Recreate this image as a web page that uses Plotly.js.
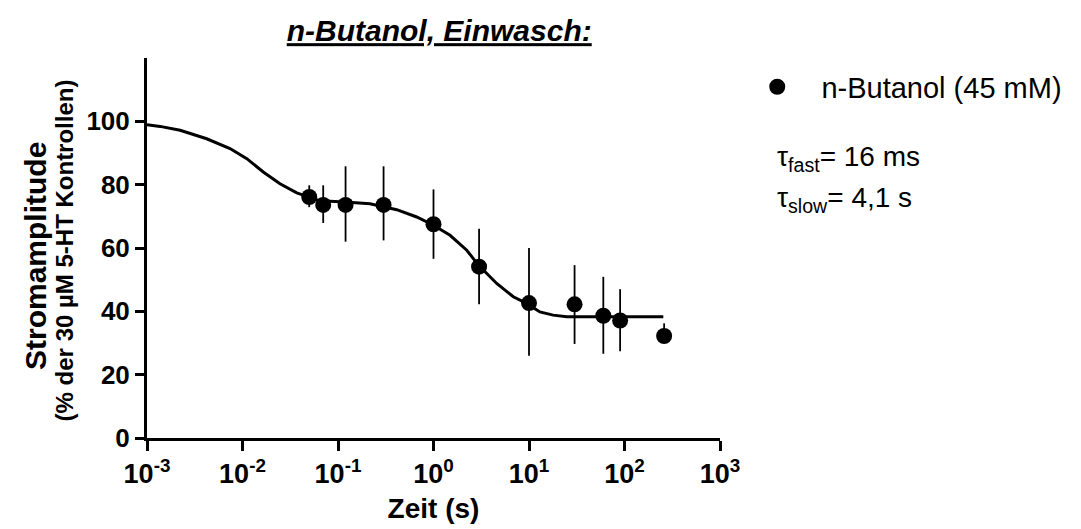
<!DOCTYPE html>
<html>
<head>
<meta charset="utf-8">
<script src="https://cdn.plot.ly/plotly-3.0.1.min.js"></script>
<style>
  html, body { margin: 0; padding: 0; background: #ffffff; }
  #chart { width: 1081px; height: 529px; }
</style>
</head>
<body>
<div id="chart"></div>
<script>
// ---- data ----
const timeS     = [0.05, 0.07, 0.12, 0.3, 1, 3, 10, 30, 60, 90, 260];
const amplitude = [76.1, 73.6, 73.6, 73.6, 67.5, 54.1, 42.6, 42.2, 38.6, 37.1, 32.2];
const semUp     = [3.7, 6.2, 12.2, 12.2, 11.0, 12.0, 17.4, 12.4, 12.3, 9.9, 4.0];
const semDown   = [3.2, 5.7, 11.6, 11.2, 10.9, 11.9, 16.6, 12.5, 12.0, 9.7, 2.0];

const fitTime = [0.001, 0.00137, 0.00222, 0.00422, 0.0074, 0.0111, 0.0165, 0.0247, 0.037, 0.047,
                 0.0648, 0.118, 0.216, 0.412, 0.667, 1.0, 1.49, 2.23, 2.95, 4.59,
                 6.85, 9.46, 13.0, 17.9, 24.8, 55.4, 255];
const fitAmp  = [98.9, 98.4, 97.2, 94.5, 91.4, 88.2, 84.0, 80.3, 77.4, 76.3,
                 74.9, 74.5, 74.0, 72.1, 69.8, 67.2, 64.0, 59.3, 54.6, 48.8,
                 44.6, 42.5, 39.8, 38.8, 38.3, 38.3, 38.3];

const xTickVals  = [0.001, 0.01, 0.1, 1, 10, 100, 1000];
const xTickText  = ['10<sup>-3</sup>', '10<sup>-2</sup>', '10<sup>-1</sup>', '10<sup>0</sup>',
                    '10<sup>1</sup>', '10<sup>2</sup>', '10<sup>3</sup>'];
const yTickVals  = [0, 20, 40, 60, 80, 100];

const titleText   = 'n-Butanol, Einwasch:';
const xTitleText  = 'Zeit (s)';
const yTitleMain  = 'Stromamplitude';
const yTitleSub   = '(% der 30 µM 5-HT Kontrollen)';
const seriesName  = 'n-Butanol (45 mM)';
const tauFast     = 'τ<sub>fast</sub>= 16 ms';
const tauSlow     = 'τ<sub>slow</sub>= 4,1 s';

const FONT = 'Liberation Sans, Arial, Helvetica, sans-serif';

const traces = [
  {
    x: fitTime, y: fitAmp, type: 'scatter', mode: 'lines',
    line: { color: '#000000', width: 3 },
    showlegend: false, hoverinfo: 'skip'
  },
  {
    x: timeS, y: amplitude, type: 'scatter', mode: 'markers',
    name: '\u00A0\u00A0\u00A0' + seriesName,
    marker: { color: '#000000', size: 16, symbol: 'circle' },
    error_y: { type: 'data', symmetric: false, array: semUp, arrayminus: semDown,
               visible: true, color: '#000000', thickness: 1.8, width: 0 },
    showlegend: true
  }
];

const layout = {
  width: 1081, height: 529,
  paper_bgcolor: '#ffffff', plot_bgcolor: '#ffffff',
  margin: { l: 147, r: 361, t: 58, b: 91, pad: 0 },
  font: { family: FONT, color: '#000000' },
  title: {
    text: titleText,
    font: { family: FONT, size: 30, weight: 700, style: 'italic', lineposition: 'under', color: '#000000' },
    xref: 'paper', x: 0.51, xanchor: 'center',
    yref: 'container', y: 0.942, yanchor: 'middle'
  },
  xaxis: {
    type: 'log', range: [-3, 3],
    tickvals: xTickVals, ticktext: xTickText,
    ticks: 'outside', ticklen: 10, tickwidth: 3, tickcolor: '#000000',
    showline: true, linewidth: 3, linecolor: '#000000',
    showgrid: false, zeroline: false,
    tickfont: { family: FONT, size: 27, weight: 700, color: '#000000' },
    title: { text: xTitleText, font: { family: FONT, size: 28, weight: 700, color: '#000000' }, standoff: 10 }
  },
  yaxis: {
    range: [0, 120],
    tickvals: yTickVals,
    ticks: 'outside', ticklen: 9, tickwidth: 3, tickcolor: '#000000',
    showline: true, linewidth: 3, linecolor: '#000000',
    showgrid: false, zeroline: false,
    tickfont: { family: FONT, size: 26, weight: 700, color: '#000000' }
  },
  showlegend: true,
  legend: {
    x: 1.065, xanchor: 'left', y: 0.924, yanchor: 'middle',
    font: { family: FONT, size: 29, color: '#000000' },
    bgcolor: 'rgba(0,0,0,0)', borderwidth: 0
  },
  annotations: [
    {
      text: yTitleMain, textangle: -90, showarrow: false,
      xref: 'paper', yref: 'paper', x: -0.1937, y: 0.479, xanchor: 'center', yanchor: 'middle',
      font: { family: FONT, size: 30, weight: 700, color: '#000000' }
    },
    {
      text: yTitleSub, textangle: -90, showarrow: false,
      xref: 'paper', yref: 'paper', x: -0.1440, y: 0.495, xanchor: 'center', yanchor: 'middle',
      font: { family: FONT, size: 24, weight: 700, color: '#000000' }
    },
    {
      text: tauFast, showarrow: false,
      xref: 'paper', yref: 'paper', x: 1.096, y: 0.735, xanchor: 'left', yanchor: 'middle',
      font: { family: FONT, size: 28, color: '#000000' }
    },
    {
      text: tauSlow, showarrow: false,
      xref: 'paper', yref: 'paper', x: 1.096, y: 0.628, xanchor: 'left', yanchor: 'middle',
      font: { family: FONT, size: 28, color: '#000000' }
    }
  ]
};

Plotly.newPlot('chart', traces, layout, { staticPlot: true, displayModeBar: false });
</script>
</body>
</html>
